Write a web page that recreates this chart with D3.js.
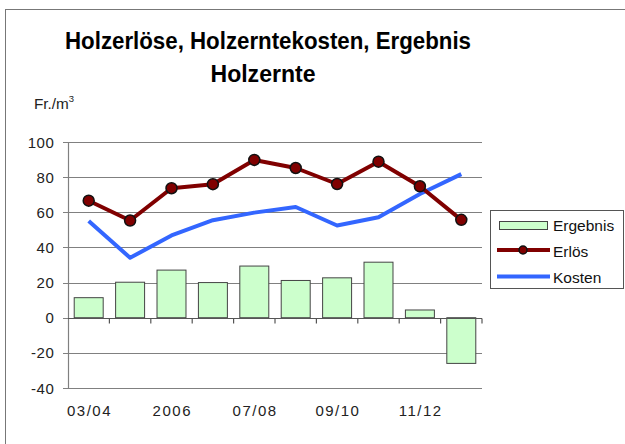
<!DOCTYPE html>
<html><head><meta charset="utf-8">
<script src="https://cdn.jsdelivr.net/npm/d3@7"></script>
<style>body{margin:0;background:#fff}svg{display:block}text{font-family:"Liberation Sans",Arial,sans-serif}</style>
</head><body>
<script>
const categories = ["03/04","04/05","2006","06/07","07/08","08/09","09/10","10/11","11/12","12/13"];
const tickLabels = ["03/04","2006","07/08","09/10","11/12"];
const ergebnis = [11.4, 20.2, 27.1, 20, 29.4, 21.2, 22.7, 31.6, 4.4, -26];
const erloes = [66.6, 55.3, 73.7, 76, 89.8, 85.2, 76.1, 88.8, 74.8, 55.7];
const kosten = [55.1, 34.1, 46.8, 55.5, 59.8, 63, 52.5, 57.2, 70.4, 81.7];
const yTicks = [-40, -20, 0, 20, 40, 60, 80, 100];

const W = 625, H = 444;
const svg = d3.select("body").append("svg").attr("width", W).attr("height", H);
svg.append("rect").attr("x", 5.5).attr("y", 9.5).attr("width", 640).attr("height", 460)
  .attr("fill", "none").attr("stroke", "#777").attr("stroke-width", 1);

const x = d3.scaleBand().domain(categories).range([68, 482]).paddingInner(0.3).paddingOuter(0.15);
const y = d3.scaleLinear().domain([-40, 100]).range([388, 142]);
const cx = d => x(d) + x.bandwidth() / 2;
const xb = d3.scaleBand().domain(categories).range([68, 482]);

// grid
svg.append("g").selectAll("line").data(yTicks).join("line")
  .attr("x1", 63).attr("x2", 482).attr("y1", d => Math.round(y(d)) + 0.5).attr("y2", d => Math.round(y(d)) + 0.5)
  .attr("stroke", "#808080").attr("stroke-width", 1.2);
svg.append("line").attr("x1", 68.5).attr("x2", 68.5).attr("y1", y(100)).attr("y2", y(-40)).attr("stroke", "#808080").attr("stroke-width", 1.2);
// y labels
svg.append("g").selectAll("text").data(yTicks).join("text")
  .attr("x", 54.5).attr("y", d => y(d) + 5.5).attr("text-anchor", "end").attr("font-size", 15).attr("fill", "#222")
  .attr("letter-spacing", 0.6).text(d => d);

// bars
svg.append("g").selectAll("rect").data(ergebnis).join("rect")
  .attr("x", (d, i) => x(categories[i])).attr("width", x.bandwidth())
  .attr("y", d => y(Math.max(0, d))).attr("height", d => Math.abs(y(d) - y(0)))
  .attr("fill", "#CCFFCC").attr("stroke", "#444").attr("stroke-width", 1);

// zero axis ticks at category boundaries
const y0 = Math.round(y(0)) + 0.5;
svg.append("g").selectAll("line").data(categories).join("line")
  .attr("x1", d => xb(d) + xb.bandwidth()).attr("x2", d => xb(d) + xb.bandwidth())
  .attr("y1", y0).attr("y2", y0 + 5).attr("stroke", "#555").attr("stroke-width", 1.2);
svg.append("line").attr("x1", 68).attr("x2", 482).attr("y1", y0).attr("y2", y0).attr("stroke", "#555").attr("stroke-width", 1.2);

// x labels
svg.append("g").selectAll("text").data(tickLabels).join("text")
  .attr("x", d => cx(d) + 0.8).attr("y", 416).attr("text-anchor", "middle").attr("font-size", 15).attr("fill", "#222")
  .attr("letter-spacing", 1.5).text(d => d);

// lines
const line = d3.line().x((d, i) => cx(categories[i])).y(d => y(d));
svg.append("path").datum(kosten).attr("d", line).attr("fill", "none").attr("stroke", "#3366FF").attr("stroke-width", 4).attr("stroke-linejoin", "round");
svg.append("path").datum(erloes).attr("d", line).attr("fill", "none").attr("stroke", "#800000").attr("stroke-width", 4).attr("stroke-linejoin", "round");
svg.append("g").selectAll("circle").data(erloes).join("circle")
  .attr("cx", (d, i) => cx(categories[i])).attr("cy", d => y(d)).attr("r", 5.5)
  .attr("fill", "#800000").attr("stroke", "#111").attr("stroke-width", 1.5);

// title
svg.append("text").attr("x", 268).attr("y", 48.5).attr("text-anchor", "middle").attr("font-size", 23.5).attr("font-weight", "bold")
  .attr("textLength", 406).attr("lengthAdjust", "spacingAndGlyphs").text("Holzerlöse, Holzerntekosten, Ergebnis");
svg.append("text").attr("x", 263).attr("y", 82).attr("text-anchor", "middle").attr("font-size", 23.5).attr("font-weight", "bold")
  .attr("textLength", 105).attr("lengthAdjust", "spacingAndGlyphs").text("Holzernte");
const u = svg.append("text").attr("x", 34).attr("y", 108.5).attr("font-size", 15.3).attr("fill", "#222");
u.append("tspan").text("Fr./m");
u.append("tspan").attr("font-size", 9.5).attr("dy", -6.5).text("3");

// legend
const lg = svg.append("g");
lg.append("rect").attr("x", 490.5).attr("y", 210.5).attr("width", 133).attr("height", 78).attr("fill", "#fff").attr("stroke", "#555");
lg.append("rect").attr("x", 499.5).attr("y", 221.5).attr("width", 48).attr("height", 8).attr("fill", "#CCFFCC").attr("stroke", "#444");
lg.append("line").attr("x1", 497).attr("x2", 550).attr("y1", 250).attr("y2", 250).attr("stroke", "#800000").attr("stroke-width", 4);
lg.append("circle").attr("cx", 523).attr("cy", 250).attr("r", 4).attr("fill", "#800000").attr("stroke", "#111").attr("stroke-width", 1.5);
lg.append("line").attr("x1", 497).attr("x2", 550).attr("y1", 276.5).attr("y2", 276.5).attr("stroke", "#3366FF").attr("stroke-width", 4);
const names = ["Ergebnis", "Erlös", "Kosten"];
lg.selectAll("text.l").data(names).join("text").attr("class", "l")
  .attr("x", 553).attr("y", (d, i) => 231 + i * 26).attr("font-size", 15.5).attr("fill", "#111").text(d => d);
</script>
</body></html>
